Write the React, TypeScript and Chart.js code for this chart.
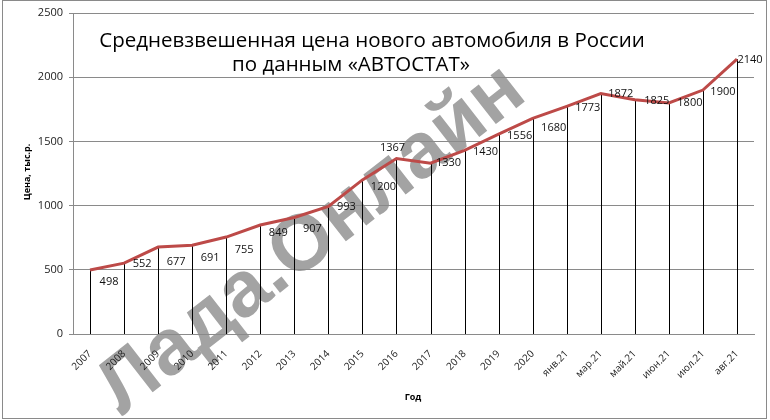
import React, { useEffect, useRef } from "react";
import { Chart, registerables } from "chart.js";

Chart.register(...registerables);

const categories = [
  "2007", "2008", "2009", "2010", "2011", "2012", "2013", "2014", "2015", "2016",
  "2017", "2018", "2019", "2020", "янв.21", "мар.21", "май.21", "июн.21", "июл.21", "авг.21",
];
const prices = [
  498, 552, 677, 691, 755, 849, 907, 993, 1200, 1367,
  1330, 1430, 1556, 1680, 1773, 1872, 1825, 1800, 1900, 2140,
];
const yTicks = [0, 500, 1000, 1500, 2000, 2500];
const titleLines = ["Средневзвешенная цена нового автомобиля в России", "по данным «АВТОСТАТ»"];
const yTitle = "Цена, тыс.р.";
const xTitle = "Год";
const watermark = "Лада.Онлайн";

// label placement offsets (pixels, relative to each point) — style only
const labelDx = [19, 18, 18, 18, 18, 18, 18, 18, 21, -4, 18, 21, 21, 21, 21, 20, 22, 21, 20, 13];
const labelDy = [12, 1, 15, 13, 13, 8, 11, 0, 7, -11, 0, 1, 2, 10, 2, 0, 1, 0, 2, 1];

const FONT = "'Open Sans', 'Liberation Sans', sans-serif";

const decorPlugin = {
  id: "decor",
  beforeDraw(chart: any) {
    const ctx = chart.ctx;
    ctx.save();
    ctx.fillStyle = "#ffffff";
    ctx.fillRect(0, 0, chart.width, chart.height);
    // watermark
    ctx.translate(312, 240);
    ctx.rotate((-38 * Math.PI) / 180);
    ctx.font = `bold 79px 'Liberation Sans', Arial, sans-serif`;
    ctx.fillStyle = "#a3a3a3";
    ctx.textAlign = "center";
    ctx.textBaseline = "middle";
    ctx.fillText(watermark, 0, 0);
    ctx.restore();
  },
  beforeDatasetsDraw(chart: any) {
    const ctx = chart.ctx;
    const meta = chart.getDatasetMeta(0);
    const bottom = chart.chartArea.bottom;
    ctx.save();
    ctx.strokeStyle = "#000000";
    ctx.lineWidth = 1;
    meta.data.forEach((pt: any) => {
      const x = Math.round(pt.x) + 0.5;
      ctx.beginPath();
      ctx.moveTo(x, pt.y);
      ctx.lineTo(x, bottom);
      ctx.stroke();
    });
    ctx.restore();
  },
  afterDatasetsDraw(chart: any) {
    const ctx = chart.ctx;
    const meta = chart.getDatasetMeta(0);
    ctx.save();
    // data labels
    ctx.font = `11px ${FONT}`;
    ctx.fillStyle = "#111111";
    ctx.textAlign = "center";
    ctx.textBaseline = "middle";
    meta.data.forEach((pt: any, i: number) => {
      ctx.fillText(String(prices[i]), pt.x + labelDx[i], pt.y + labelDy[i]);
    });
    // title
    ctx.font = `20.5px ${FONT}`;
    ctx.fillStyle = "#000000";
    ctx.textBaseline = "middle";
    ctx.textAlign = "center";
    ctx.fillText(titleLines[0], 372, 41);
    ctx.fillText(titleLines[1], 351, 65);
    // axis titles
    ctx.font = `bold 9px ${FONT}`;
    ctx.fillText(xTitle, 413, 397);
    ctx.save();
    ctx.translate(27, 172);
    ctx.rotate(-Math.PI / 2);
    ctx.fillText(yTitle, 0, 0);
    ctx.restore();
    // outer frame
    ctx.strokeStyle = "#8a8a8a";
    ctx.lineWidth = 1;
    ctx.strokeRect(2.5, 0.5, 764, 418);
    ctx.restore();
  },
};

export default function App() {
  const canvasRef = useRef<HTMLCanvasElement | null>(null);

  useEffect(() => {
    const canvas = canvasRef.current;
    if (!canvas) return;
    const chart = new Chart(canvas, {
      type: "line",
      data: {
        labels: categories,
        datasets: [
          {
            data: prices,
            borderColor: "#bd4a48",
            borderWidth: 3,
            pointRadius: 0,
            tension: 0,
            fill: false,
          },
        ],
      },
      options: {
        responsive: false,
        animation: false,
        layout: { padding: { left: 0, right: 16, top: 13, bottom: 0 } },
        plugins: {
          legend: { display: false },
          title: { display: false },
          tooltip: { enabled: false },
        },
        scales: {
          x: {
            type: "category",
            offset: true,
            grid: { display: false },
            border: { display: true, color: "#8a8a8a", width: 1 },
            ticks: {
              color: "#222222",
              font: { family: FONT, size: 10 },
              minRotation: 45,
              maxRotation: 45,
              padding: 6,
              autoSkip: false,
            },
            afterFit: (scale: any) => {
              scale.height = 86;
            },
          },
          y: {
            min: 0,
            max: 2500,
            grid: { color: "#8a8a8a", tickLength: 4, lineWidth: 1 },
            border: { display: true, color: "#8a8a8a", width: 1 },
            ticks: {
              color: "#222222",
              font: { family: FONT, size: 11 },
              padding: 6,
              callback: (v: any) => String(v),
            },
            afterBuildTicks: (scale: any) => {
              scale.ticks = yTicks.map((v) => ({ value: v }));
            },
            afterFit: (scale: any) => {
              scale.width = 73;
            },
          },
        },
      },
      plugins: [decorPlugin],
    });
    return () => chart.destroy();
  }, []);

  return (
    <div style={{ position: "fixed", left: 0, top: 0, width: 770, height: 420, background: "#fff" }}>
      <canvas ref={canvasRef} width={770} height={420} style={{ width: 770, height: 420, display: "block" }} />
    </div>
  );
}
